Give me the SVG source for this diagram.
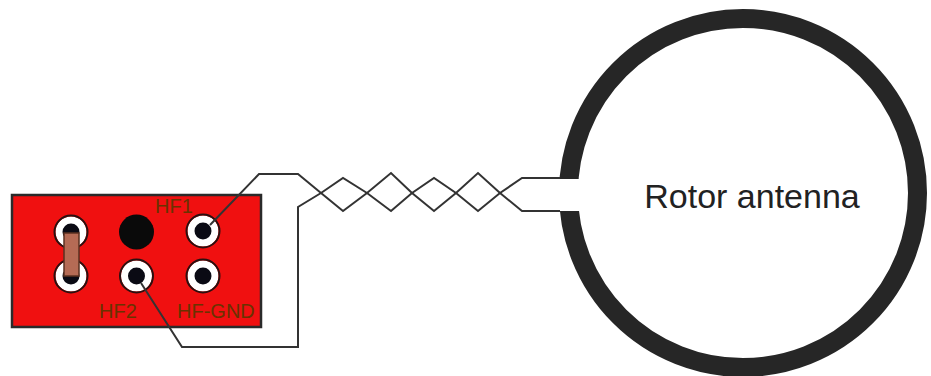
<svg xmlns="http://www.w3.org/2000/svg" width="931" height="376" viewBox="0 0 931 376">
<style>
.w{fill:none;stroke:#333;stroke-width:2;stroke-linejoin:miter}
.pad{fill:#0a0a14;stroke:#fff;stroke-width:7}
.rim{fill:none;stroke:#2a1010;stroke-width:2}
.lb{font-family:"Liberation Sans",Arial,sans-serif;font-size:20px;fill:#6a3200}
</style>
<rect width="931" height="376" fill="#fff"/>
<g id="board">
<rect x="12" y="195" width="249" height="132" fill="#f01010" stroke="#2a2a2a" stroke-width="2.5"/>
</g>
<g id="pad-1"><circle cx="71" cy="232" r="12" class="pad"/><circle cx="71" cy="232" r="16.500" class="rim"/></g>
<g id="pad-2"><circle cx="71" cy="276" r="12" class="pad"/><circle cx="71" cy="276" r="16.500" class="rim"/></g>
<g id="jumper"><rect x="64" y="233" width="15" height="43" fill="#b56b55" stroke="#5a3020" stroke-width="1.500"/></g>
<g id="pad-3"><circle cx="136.500" cy="232" r="17.500" fill="#0a0a0a"/></g>
<g id="pad-hf1"><circle cx="203" cy="231" r="12" class="pad"/><circle cx="203" cy="231" r="16.500" class="rim"/></g>
<g id="pad-hf2"><circle cx="136.500" cy="276" r="12" class="pad"/><circle cx="136.500" cy="276" r="16.500" class="rim"/></g>
<g id="pad-gnd"><circle cx="203" cy="276" r="12" class="pad"/><circle cx="203" cy="276" r="16.500" class="rim"/></g>
<g id="antenna">
<circle cx="743" cy="193" r="174.500" fill="#fff" stroke="#262626" stroke-width="19"/>
<rect x="550" y="179" width="30" height="32" fill="#fff"/>
<text x="752" y="208" text-anchor="middle" font-family="'Liberation Sans',Arial,sans-serif" font-size="34" fill="#222">Rotor antenna</text>
</g>
<g id="labels">
<text class="lb" x="155" y="213">HF1</text>
<text class="lb" x="99" y="318">HF2</text>
<text class="lb" x="177" y="318">HF-GND</text>
</g>
<g id="connectors">
<path class="w" d="M210 225L259 174H298L321 193L343 211L367 193L391 173L412 193L434 211L456 193L478 173L500 193L522 211H560"/>
<path class="w" d="M141 283L182 347H298V207L321 193L343 178L367 193L391 211L412 193L434 178L456 193L478 211L500 193L522 178H560"/>
</g>
</svg>
